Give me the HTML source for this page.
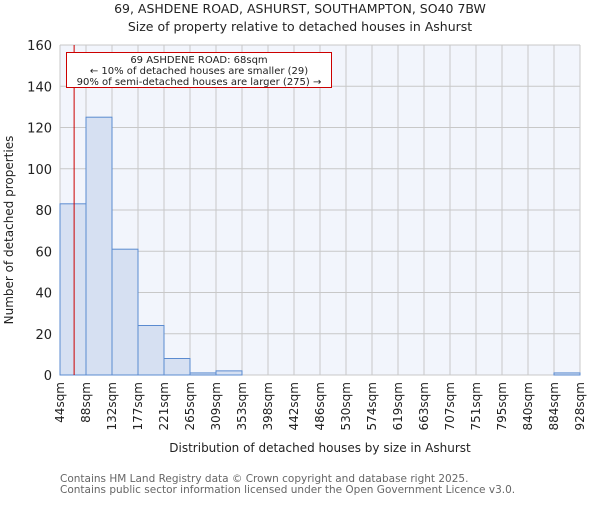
<!DOCTYPE html>
<html><head><meta charset="utf-8"><style>
body{margin:0;background:#fff;}
svg text{font-family:"DejaVu Sans","Liberation Sans",sans-serif;fill:#222;}
</style></head><body>
<svg id="c" width="600" height="500" xmlns="http://www.w3.org/2000/svg">
<text x="300" y="13" font-size="12.5" text-anchor="middle">69, ASHDENE ROAD, ASHURST, SOUTHAMPTON, SO40 7BW</text>
<text x="300" y="31" font-size="12.5" text-anchor="middle">Size of property relative to detached houses in Ashurst</text>
<rect x="60" y="45" width="520" height="330" fill="#f2f5fc"/>
<g id="grid"></g><g id="bars"></g><g id="axes"></g>
<text x="13" y="230" font-size="12" text-anchor="middle" transform="rotate(-90 13 230)">Number of detached properties</text>
<text x="320" y="452" font-size="12" text-anchor="middle">Distribution of detached houses by size in Ashurst</text>
<text x="60" y="482" font-size="10.5" style="fill:#666">Contains HM Land Registry data © Crown copyright and database right 2025.</text>
<text x="60" y="493" font-size="10.5" style="fill:#666">Contains public sector information licensed under the Open Government Licence v3.0.</text>
</svg>
<script>
const categories=["44sqm","88sqm","132sqm","177sqm","221sqm","265sqm","309sqm","353sqm","398sqm","442sqm","486sqm","530sqm","574sqm","619sqm","663sqm","707sqm","751sqm","795sqm","840sqm","884sqm","928sqm"];
const counts=[83,125,61,24,8,1,2,0,0,0,0,0,0,0,0,0,0,0,0,1];
const yTicks=[0,20,40,60,80,100,120,140,160];
const propertySize=68;
const binStart=44, binWidth=44.2;
const NS="http://www.w3.org/2000/svg";
const L=60,R=580,T=45,B=375;
const nb=counts.length;
const xs=i=>L+i*(R-L)/nb;
const xv=v=>L+(v-binStart)/binWidth*(R-L)/nb;
const y=v=>B-v/160*(B-T);
function mk(tag,attrs,parent){const e=document.createElementNS(NS,tag);for(const k in attrs)e.setAttribute(k,attrs[k]);document.getElementById(parent).appendChild(e);return e;}
for(let i=0;i<=nb;i++){const g=mk('line',{x1:xs(i),x2:xs(i),y1:T,y2:B,stroke:'#c8c8c8','stroke-width':1},'grid');

}
yTicks.forEach(t=>{const g=mk('line',{x1:L,x2:R,y1:y(t),y2:y(t),stroke:'#c8c8c8','stroke-width':1},'grid');


const tx=mk('text',{x:52,y:y(t)+5,'font-size':13,'text-anchor':'end'},'axes');tx.textContent=t;

});
counts.forEach((c,i)=>{if(c<=0)return;const r=mk('rect',{x:xs(i),y:y(c),width:(R-L)/nb,height:B-y(c),fill:'#d6e0f2',stroke:'#5b8bd0','stroke-width':1},'bars');

});
categories.forEach((c,i)=>{const x=xs(i)+4;const tx=mk('text',{x:x,y:382,'font-size':12,'text-anchor':'end',transform:`rotate(-90 ${x} 382)`},'axes');tx.textContent=c;

});
const ml=mk('line',{x1:xv(propertySize),x2:xv(propertySize),y1:T,y2:B,stroke:'#cc0000','stroke-width':1},'axes');


const box=mk('rect',{x:66.5,y:52.5,width:265,height:35,fill:'#fff',stroke:'#cc0000','stroke-width':1},'axes');


["69 ASHDENE ROAD: 68sqm","← 10% of detached houses are smaller (29)","90% of semi-detached houses are larger (275) →"].forEach((s,i)=>{const tx=mk('text',{x:199,y:63+i*11,'font-size':10,'text-anchor':'middle'},'axes');tx.textContent=s;

});
</script>
</body></html>
